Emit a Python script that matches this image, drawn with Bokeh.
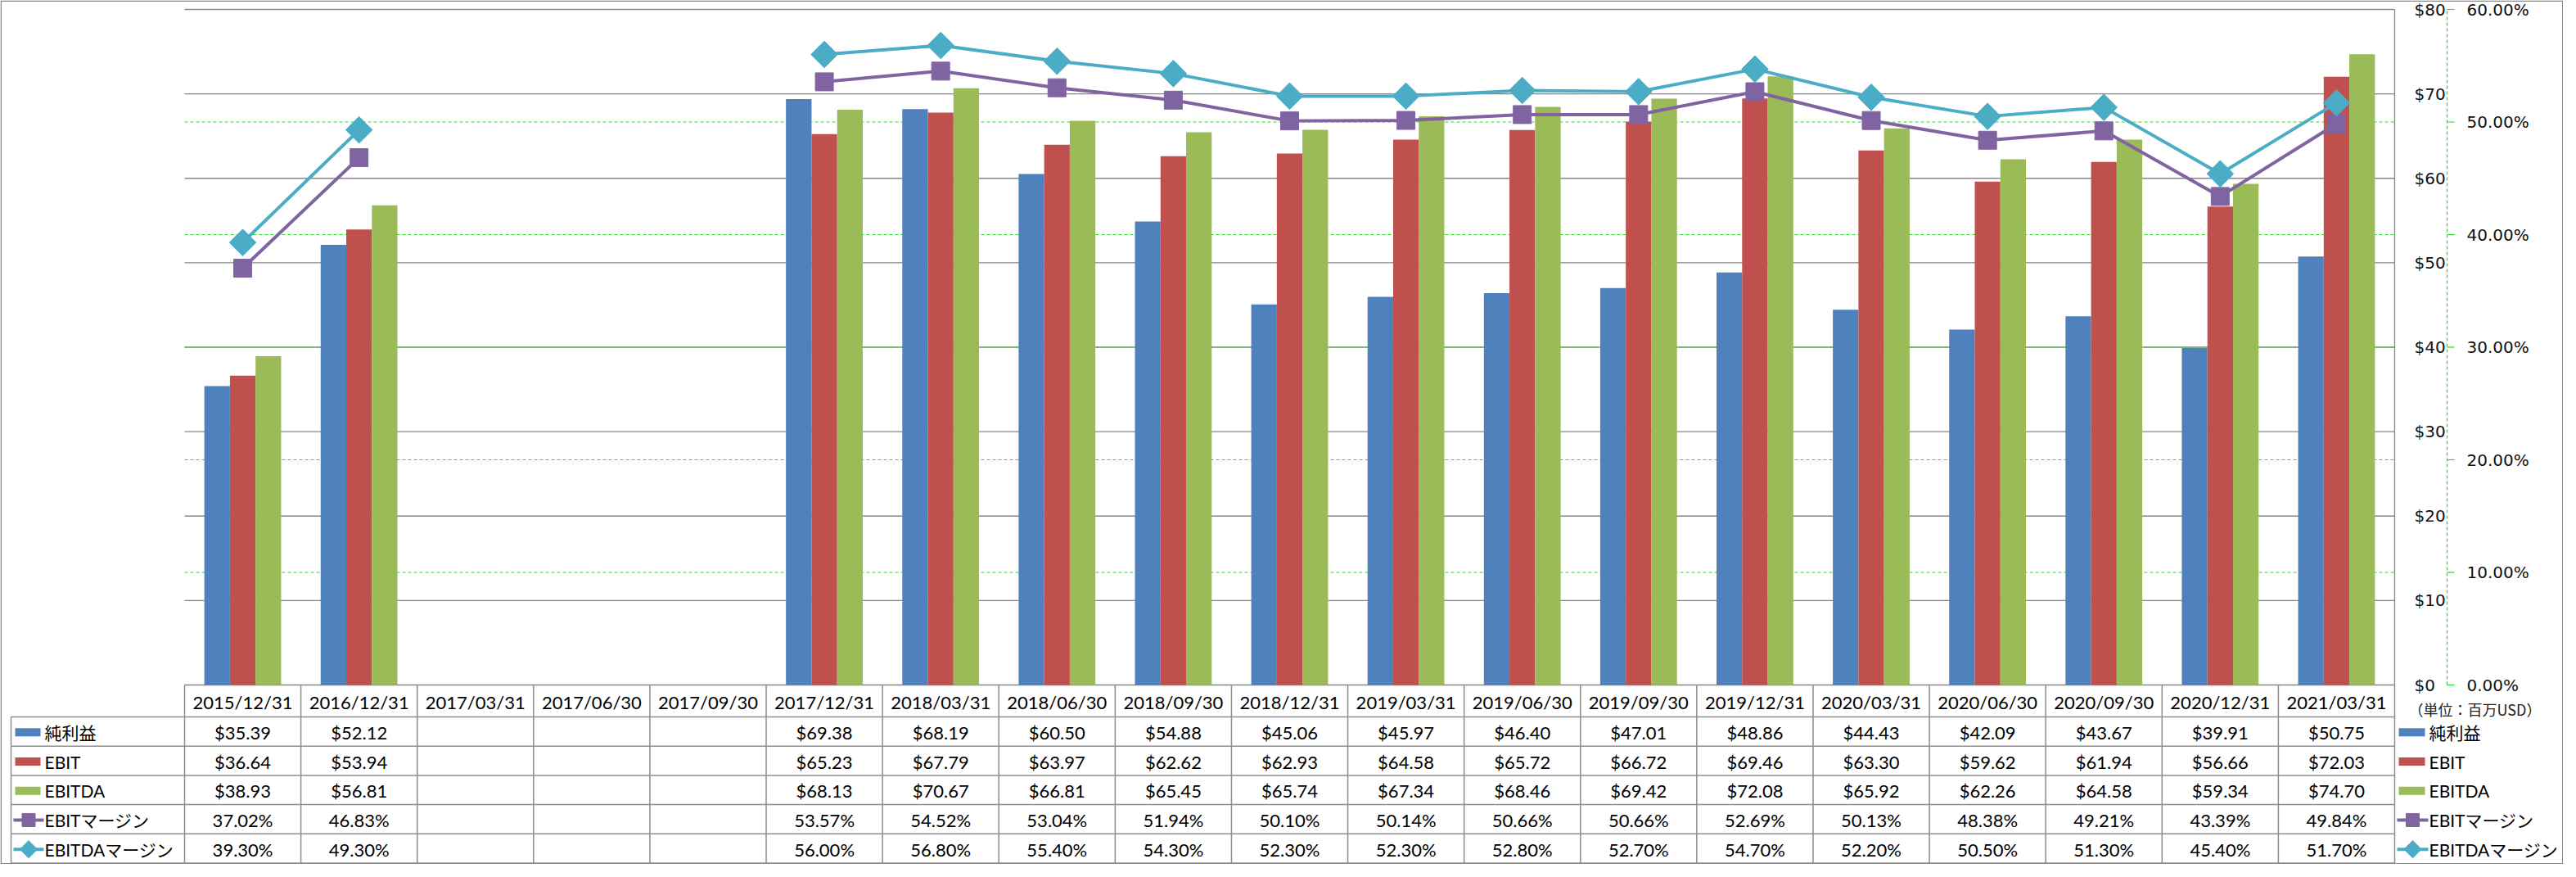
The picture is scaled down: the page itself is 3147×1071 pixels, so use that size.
import math
from bokeh.plotting import figure
from bokeh.models import Range1d
from bokeh.core.properties import value
from bokeh.embed import file_html
from bokeh.resources import INLINE

NAN = float("nan")

# ---------------- data ----------------
categories = ["2015/12/31", "2016/12/31", "2017/03/31", "2017/06/30", "2017/09/30",
              "2017/12/31", "2018/03/31", "2018/06/30", "2018/09/30", "2018/12/31",
              "2019/03/31", "2019/06/30", "2019/09/30", "2019/12/31", "2020/03/31",
              "2020/06/30", "2020/09/30", "2020/12/31", "2021/03/31"]
net_income = [35.39, 52.12, NAN, NAN, NAN, 69.38, 68.19, 60.50, 54.88, 45.06,
              45.97, 46.40, 47.01, 48.86, 44.43, 42.09, 43.67, 39.91, 50.75]
ebit = [36.64, 53.94, NAN, NAN, NAN, 65.23, 67.79, 63.97, 62.62, 62.93,
        64.58, 65.72, 66.72, 69.46, 63.30, 59.62, 61.94, 56.66, 72.03]
ebitda = [38.93, 56.81, NAN, NAN, NAN, 68.13, 70.67, 66.81, 65.45, 65.74,
          67.34, 68.46, 69.42, 72.08, 65.92, 62.26, 64.58, 59.34, 74.70]
ebit_margin = [37.02, 46.83, NAN, NAN, NAN, 53.57, 54.52, 53.04, 51.94, 50.10,
               50.14, 50.66, 50.66, 52.69, 50.13, 48.38, 49.21, 43.39, 49.84]
ebitda_margin = [39.30, 49.30, NAN, NAN, NAN, 56.00, 56.80, 55.40, 54.30, 52.30,
                 52.30, 52.80, 52.70, 54.70, 52.20, 50.50, 51.30, 45.40, 51.70]
series_names = ["純利益", "EBIT", "EBITDA", "EBITマージン", "EBITDAマージン"]
dollar_ticks = [0, 10, 20, 30, 40, 50, 60, 70, 80]
pct_ticks = [0, 10, 20, 30, 40, 50, 60]
unit_note = "（単位：百万USD）"

# ---------------- style / layout (page pixels) ----------------
BLUE, RED, GREEN = "#4F81BD", "#C0504D", "#9BBB59"
PURPLE, TEAL = "#8064A2", "#4BACC6"
GRID_GRAY = "#868686"
LIME = "#22DD22"
TABLE_LINE = "#8E8E8E"
BORDER = "#898989"
TXT_FONT = value("Lato, 'Noto Sans CJK JP'")
AX_FONT = value("DejaVu Sans")

W, H = 3131, 1055
OX, OY = 8, 8                 # page margin
N = len(categories)
PLOT_L, PLOT_R = 233, 2933    # page x of plot area
Y_TOP, Y_ZERO = 19, 844       # page y of $80 / 0
U = (PLOT_R - PLOT_L) / N     # px per category
PPD = (Y_ZERO - Y_TOP) / 80.0   # px per dollar
PPP = (Y_ZERO - Y_TOP) / 60.0   # px per percent
TBL_TOP, HEAD_BOT, TBL_BOT = Y_ZERO, 883, OY + H - 1.5
RH = (TBL_BOT - HEAD_BOT) / 5.0

x_range = Range1d((OX - PLOT_L) / U, (OX + W - PLOT_L) / U)
y_range = Range1d(-(OY + H - Y_ZERO) / PPD, (Y_ZERO - OY) / PPD)

p = figure(width=W, height=H, x_range=x_range, y_range=y_range,
           output_backend="svg", toolbar_location=None,
           x_axis_location=None, y_axis_location=None, min_border=0)
p.min_border_left = p.min_border_right = p.min_border_top = p.min_border_bottom = 0
p.outline_line_color = None
p.grid.visible = False
p.background_fill_color = "white"
p.border_fill_color = "white"
p.extra_y_ranges = {"pct": Range1d(-(OY + H - Y_ZERO) / PPP, (Y_ZERO - OY) / PPP),
                    "px": Range1d(OY + H, OY)}
p.extra_x_ranges = {"px": Range1d(OX, OX + W)}

# outer chart border
p.quad(left=[OX + 0.75], right=[OX + W - 0.75], top=[OY + 0.75], bottom=[OY + H - 0.75],
       fill_color=None, line_color=BORDER, line_width=1.5,
       x_range_name="px", y_range_name="px")

# gridlines
p.segment(x0=[0] * len(dollar_ticks), x1=[N] * len(dollar_ticks), y0=dollar_ticks, y1=dollar_ticks,
          line_color=GRID_GRAY, line_width=1.3)
inner_pct = pct_ticks[1:-1]
p.segment(x0=[0] * len(inner_pct), x1=[N] * len(inner_pct), y0=inner_pct, y1=inner_pct,
          line_color=LIME, line_width=1.2, line_dash="4 3", y_range_name="pct")
# right border of plot area
p.segment(x0=[N], x1=[N], y0=[0], y1=[dollar_ticks[-1]], line_color=GRID_GRAY, line_width=1.3)

# bars
bw = 0.22
offsets = [-bw, 0.0, bw]
for vals, off, col in zip([net_income, ebit, ebitda], offsets, [BLUE, RED, GREEN]):
    xs = [i + 0.5 + off for i, v in enumerate(vals) if not math.isnan(v)]
    tops = [v for v in vals if not math.isnan(v)]
    p.vbar(x=xs, top=tops, bottom=0, width=bw, fill_color=col, line_color=None)

# margin lines
xc = [i + 0.5 for i in range(N)]
p.line(x=xc, y=ebit_margin, y_range_name="pct", line_color=PURPLE, line_width=4)
p.line(x=xc, y=ebitda_margin, y_range_name="pct", line_color=TEAL, line_width=4)
p.scatter(x=xc, y=ebit_margin, y_range_name="pct", marker="square", size=22,
          fill_color=PURPLE, line_color=PURPLE)
p.scatter(x=xc, y=ebitda_margin, y_range_name="pct", marker="square", angle=math.pi / 4,
          size=23, fill_color=TEAL, line_color=TEAL)

# right-hand value axis ($)
p.text(x=[2957] * len(dollar_ticks), y=dollar_ticks, text=[f"${v}" for v in dollar_ticks],
       x_range_name="px", text_font=AX_FONT, text_font_size="20px", text_color="#111111",
       text_align="left", text_baseline="middle")
# secondary axis (%)
AXX = 2997
p.segment(x0=[AXX], x1=[AXX], y0=[pct_ticks[0]], y1=[pct_ticks[-1]], x_range_name="px",
          y_range_name="pct", line_color=LIME, line_width=1.2, line_dash="4 3")
p.segment(x0=[AXX] * len(pct_ticks), x1=[AXX + 9] * len(pct_ticks), y0=pct_ticks, y1=pct_ticks,
          x_range_name="px", y_range_name="pct", line_color=LIME, line_width=1.2)
p.text(x=[3021] * len(pct_ticks), y=pct_ticks, text=[f"{v:.2f}%" for v in pct_ticks],
       x_range_name="px", y_range_name="pct", text_font=AX_FONT, text_font_size="20px",
       text_color="#111111", text_align="left", text_baseline="middle")

# ---------------- data table ----------------
# column lines
p.segment(x0=list(range(N + 1)), x1=list(range(N + 1)), y0=[TBL_TOP] * (N + 1), y1=[TBL_BOT] * (N + 1),
          y_range_name="px", line_color=TABLE_LINE, line_width=1.5)
# legend column left border
p.segment(x0=[21], x1=[21], y0=[HEAD_BOT], y1=[TBL_BOT], x_range_name="px", y_range_name="px",
          line_color=TABLE_LINE, line_width=1.5)
# row lines
hy = [HEAD_BOT + RH * k for k in range(6)]
p.segment(x0=[21] * 6, x1=[PLOT_R] * 6, y0=hy, y1=hy, x_range_name="px", y_range_name="px",
          line_color=TABLE_LINE, line_width=1.5)

# header labels
p.text(x=xc, y=[(TBL_TOP + HEAD_BOT) / 2 + 1] * N, text=categories, y_range_name="px",
       text_font=TXT_FONT, text_font_size="22px", text_align="center", text_baseline="middle",
       text_color="#000000")


def fmt_money(v):
    return "" if math.isnan(v) else f"${v:.2f}"


def fmt_pct(v):
    return "" if math.isnan(v) else f"{v:.2f}%"


rows = [(net_income, fmt_money), (ebit, fmt_money), (ebitda, fmt_money),
        (ebit_margin, fmt_pct), (ebitda_margin, fmt_pct)]
row_y = [HEAD_BOT + RH * (r + 0.5) + 1 for r in range(5)]
cx, cy, ct = [], [], []
for r, (vals, f) in enumerate(rows):
    for i, v in enumerate(vals):
        cx.append(i + 0.5)
        cy.append(row_y[r])
        ct.append(f(v))
p.text(x=cx, y=cy, text=ct, y_range_name="px", text_font=TXT_FONT, text_font_size="22px",
       text_align="center", text_baseline="middle", text_color="#000000")

# legend keys: inside table (left) and beside it (right)
for k0, k1, tx in [(26, 57, 62), (2938, 2970, 2975)]:
    kc = (k0 + k1) / 2
    kw = k1 - k0
    p.rect(x=[kc] * 3, y=row_y[:3], width=kw, height=10, fill_color=[BLUE, RED, GREEN],
           line_color=None, x_range_name="px", y_range_name="px")
    p.segment(x0=[k0 - 2, k0 - 2], x1=[k1 + 4, k1 + 4], y0=row_y[3:], y1=row_y[3:],
              line_color=[PURPLE, TEAL], line_width=4, x_range_name="px", y_range_name="px")
    p.scatter(x=[kc + 1], y=[row_y[3]], marker="square", size=16, fill_color=PURPLE,
              line_color=PURPLE, x_range_name="px", y_range_name="px")
    p.scatter(x=[kc + 1], y=[row_y[4]], marker="square", angle=math.pi / 4, size=15,
              fill_color=TEAL, line_color=TEAL, x_range_name="px", y_range_name="px")
    p.text(x=[tx] * 5, y=row_y, text=series_names, x_range_name="px", y_range_name="px",
           text_font=TXT_FONT, text_font_size="21px", text_align="left", text_baseline="middle",
           text_color="#000000")

p.text(x=[2950], y=[873], text=[unit_note], x_range_name="px", y_range_name="px",
       text_font=value("Noto Sans CJK JP"), text_font_size="18px", text_align="left",
       text_baseline="middle", text_color="#222222")

open("out.html", "w").write(file_html(p, INLINE))
